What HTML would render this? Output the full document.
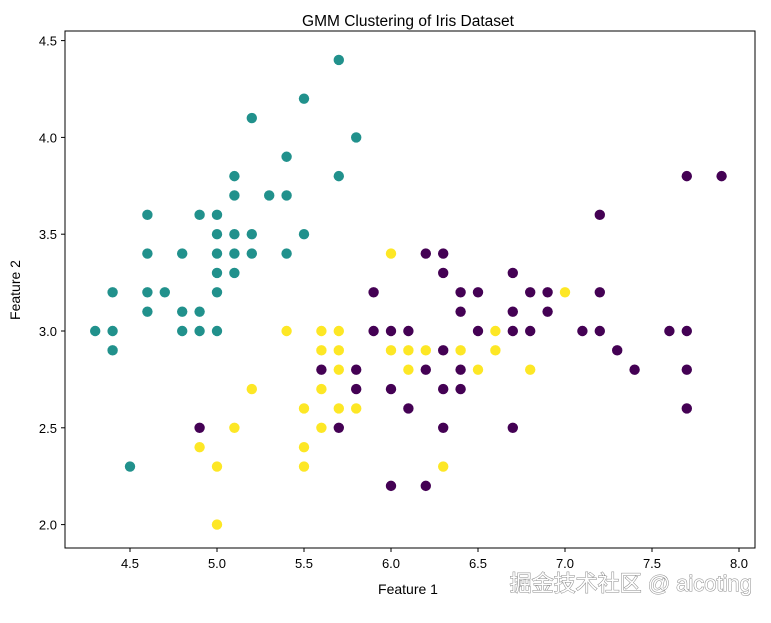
<!DOCTYPE html>
<html><head><meta charset="utf-8"><style>
body{margin:0;background:#fff;width:771px;height:618px;overflow:hidden}
svg{font-family:"Liberation Sans","DejaVu Sans",sans-serif}
</style></head><body>
<svg width="771" height="618" xmlns="http://www.w3.org/2000/svg">
<rect width="771" height="618" fill="#fff"/>
<text x="408" y="26" font-size="15.5" text-anchor="middle" fill="#000">GMM Clustering of Iris Dataset</text>
<g id="pts"></g>
<rect x="65" y="31" width="690" height="517" fill="none" stroke="#000" stroke-width="1"/>
<g font-size="13" fill="#000" text-anchor="middle" id="xt"></g>
<g font-size="13" fill="#000" text-anchor="end" id="yt"></g>
<text x="408" y="594" font-size="14" text-anchor="middle">Feature 1</text>
<text x="20" y="290" font-size="14" text-anchor="middle" transform="rotate(-90 20 290)">Feature 2</text>
<text x="752" y="591" font-size="22" text-anchor="end" fill="#fff" stroke="#888" stroke-width="1" paint-order="stroke" font-family="'Liberation Sans','Noto Sans CJK SC',sans-serif">掘金技术社区 @ aicoting</text>
</svg>
<script>
const X=v=>130+(v-4.5)*174, Y=v=>331-(v-3)*193.6;
const teal=[[5.1,3.5],[4.9,3.0],[4.7,3.2],[4.6,3.1],[5.0,3.6],[5.4,3.9],[4.6,3.4],[5.0,3.4],[4.4,2.9],[4.9,3.1],[5.4,3.7],[4.8,3.4],[4.8,3.0],[4.3,3.0],[5.8,4.0],[5.7,4.4],[5.7,3.8],[5.1,3.8],[5.4,3.4],[5.1,3.7],[4.6,3.6],[5.1,3.3],[5.0,3.0],[5.2,3.5],[5.2,3.4],[4.8,3.1],[5.2,4.1],[5.5,4.2],[5.0,3.2],[5.5,3.5],[4.9,3.6],[4.4,3.0],[5.1,3.4],[5.0,3.5],[4.5,2.3],[4.4,3.2],[4.6,3.2],[5.3,3.7],[5.0,3.3]];
const yel=[[6.0,3.4],[5.4,3.0],[5.6,3.0],[5.7,3.0],[5.6,2.9],[5.7,2.9],[5.7,2.8],[5.6,2.7],[5.2,2.7],[5.5,2.6],[5.7,2.6],[5.8,2.6],[5.6,2.5],[5.1,2.5],[5.5,2.4],[4.9,2.4],[5.5,2.3],[5.0,2.3],[6.3,2.3],[5.0,2.0],[6.0,2.9],[6.1,2.9],[6.2,2.9],[6.4,2.9],[6.1,2.8],[6.5,2.8],[6.6,2.9],[6.6,3.0],[6.8,2.8],[7.0,3.2]];
const pur=[[5.9,3.2],[5.9,3.0],[6.0,3.0],[6.1,3.0],[6.2,3.4],[6.3,3.4],[6.3,3.3],[6.4,3.2],[6.5,3.2],[6.4,3.1],[6.5,3.0],[6.7,3.3],[6.7,3.1],[6.7,3.0],[6.8,3.2],[6.9,3.2],[6.8,3.0],[6.9,3.1],[7.1,3.0],[7.2,3.6],[7.2,3.2],[7.2,3.0],[7.3,2.9],[7.4,2.8],[7.6,3.0],[7.7,3.0],[7.7,3.8],[7.9,3.8],[7.7,2.8],[7.7,2.6],[5.6,2.8],[5.8,2.8],[5.8,2.7],[6.0,2.7],[6.3,2.9],[6.2,2.8],[6.3,2.7],[6.4,2.8],[6.4,2.7],[6.1,2.6],[5.7,2.5],[4.9,2.5],[6.3,2.5],[6.7,2.5],[6.0,2.2],[6.2,2.2]];
let s='';
[[pur,'#440154'],[teal,'#21918c'],[yel,'#fde725']].forEach(([a,c])=>a.forEach(p=>s+=`<circle cx="${X(p[0])}" cy="${Y(p[1])}" r="5.2" fill="${c}"/>`));
document.getElementById('pts').innerHTML=s;
let xt='';for(let v=4.5;v<=8.01;v+=0.5){const x=X(v);xt+=`<line x1="${x}" x2="${x}" y1="548" y2="552" stroke="#000"/><text x="${x}" y="568">${v.toFixed(1)}</text>`}
document.getElementById('xt').innerHTML=xt;
let yt='';for(let v=2.0;v<=4.51;v+=0.5){const y=Y(v);yt+=`<line x1="61" x2="65" y1="${y}" y2="${y}" stroke="#000"/><text x="57" y="${y+5}">${v.toFixed(1)}</text>`}
document.getElementById('yt').innerHTML=yt;
</script>
</body></html>
